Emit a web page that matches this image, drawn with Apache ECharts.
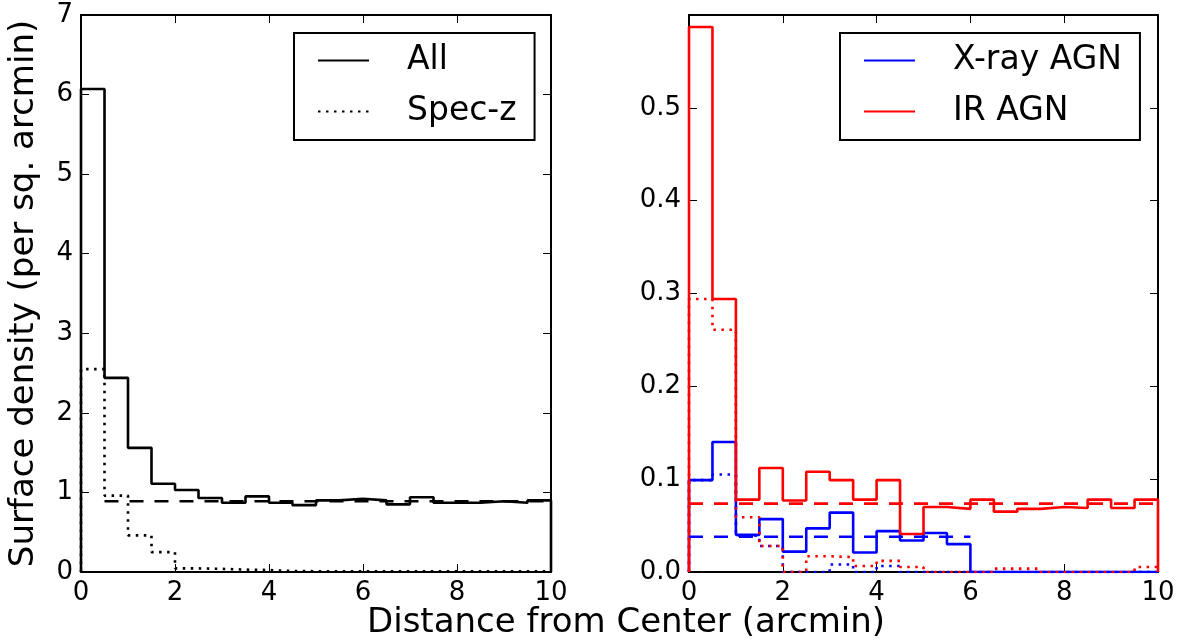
<!DOCTYPE html>
<html>
<head>
<meta charset="utf-8">
<script src="https://cdn.jsdelivr.net/npm/echarts@6/dist/echarts.min.js"></script>
<style>
html,body{margin:0;padding:0;background:#fff;}
#chart{width:1189px;height:644px;}
</style>
</head>
<body>
<div id="chart"></div>
<script>
// ---- Data ----
const binEdges = [0,0.5,1,1.5,2,2.5,3,3.5,4,4.5,5,5.5,6,6.5,7,7.5,8,8.5,9,9.5,10];
// Left panel (all galaxies)
const allDensity  = [6.07,2.44,1.56,1.11,1.03,0.93,0.87,0.95,0.87,0.84,0.90,0.92,0.90,0.85,0.94,0.87,0.87,0.89,0.87,0.90];
const specDensity = [2.55,0.96,0.46,0.25,0.045,0.04,0.03,0.025,0.012,0.01,0.01,0.009,0.008,0.008,0.008,0.008,0.008,0.008,0.008,0.008];
const allMeanLevel = 0.89;
const allMeanRange = [0.5, 10];
// Right panel (AGN)
const xrayDensity     = [0.099,0.140,0.040,0.057,0.022,0.047,0.064,0.021,0.044,0.034,0.042,0.030,0,0,0,0,0,0,0,0];
const xraySpecDensity = [0.099,0.105,0.039,0.028,0,0,0.008,0,0.0065,0,0,0,0,0,0,0,0,0,0,0];
const irDensity       = [0.587,0.294,0.078,0.112,0.077,0.108,0.099,0.078,0.099,0.041,0.070,0.068,0.078,0.065,0.068,0.070,0.069,0.078,0.069,0.078];
const irSpecDensity   = [0.294,0.261,0.059,0.028,0,0.017,0.016,0.0065,0.012,0.0054,0,0,0,0.0036,0.0036,0,0,0,0,0.0054];
const xrayMeanLevel = 0.038;
const xrayMeanRange = [0, 6];
const irMeanLevel = 0.0736;
const irMeanRange = [0, 10];
// Ticks
const xTicks = [0,2,4,6,8,10];
const leftYTicks = [0,1,2,3,4,5,6,7];
const rightYTicks = [0.0,0.1,0.2,0.3,0.4,0.5,0.6];
// Text
const xTitle = 'Distance from Center (arcmin)';
const yTitle = 'Surface density (per sq. arcmin)';
const legendLeft = ['All','Spec-z'];
const legendRight = ['X-ray AGN','IR AGN'];

// ---- Helpers ----
function stepData(edges, vals){
  const pts = [[edges[0], 0]];
  for (let i = 0; i < vals.length; i++) pts.push([edges[i], vals[i]]);
  pts.push([edges[edges.length-1], vals[vals.length-1]]);
  pts.push([edges[edges.length-1], 0]);
  return pts;
}
const FONT = 'DejaVu Sans';
const DOT = [2.5, 5.5];
const DASH = [14, 11];

function axisPair(kind, gridIndex, ticks, isLeftPanel){
  const min = ticks[0], max = ticks[ticks.length-1], interval = ticks[1]-ticks[0];
  const common = {
    type: 'value', gridIndex, min, max, interval,
    axisLine: {show: true, onZero: false, lineStyle: {color: '#000', width: 2}},
    axisTick: {show: true, inside: true, length: 8, lineStyle: {color: '#000', width: 1}},
    splitLine: {show: false}
  };
  const a = Object.assign({}, common, {
    position: kind === 'x' ? 'bottom' : 'left',
    axisLabel: {show: true, color: '#000', fontSize: 26, fontFamily: FONT, margin: 8,
      formatter: (v) => (kind === 'y' && !isLeftPanel) ? v.toFixed(1) : String(Math.round(v*100)/100),
      showMaxLabel: (kind === 'y' && !isLeftPanel) ? false : true}
  });
  const b = Object.assign({}, common, {
    position: kind === 'x' ? 'top' : 'right',
    axisLabel: {show: false}
  });
  return [a, b];
}

const xAxes = [...axisPair('x', 0, xTicks, true), ...axisPair('x', 1, xTicks, false)];
const yAxes = [...axisPair('y', 0, leftYTicks, true), ...axisPair('y', 1, rightYTicks, false)];
yAxes[0].name = yTitle;
yAxes[0].nameLocation = 'middle';
yAxes[0].nameGap = 40;
yAxes[0].nameTextStyle = {fontSize: 34, color: '#000', fontFamily: FONT};

function stepSeries(name, x, y, edges, vals, color, type, z){
  return {
    name, type: 'line', xAxisIndex: x, yAxisIndex: y, data: stepData(edges, vals),
    step: 'end', symbol: 'none', silent: true, z: z,
    lineStyle: {color, width: 2.6, type, cap: 'butt'},
    itemStyle: {color}
  };
}
function meanSeries(name, x, y, range, level, color){
  return {
    name, type: 'line', xAxisIndex: x, yAxisIndex: y,
    data: [[range[0], level], [range[1], level]],
    symbol: 'none', silent: true, z: 5,
    lineStyle: {color, width: 2.6, type: DASH, cap: 'butt'},
    itemStyle: {color}
  };
}

const series = [
  stepSeries(legendLeft[0], 0, 0, binEdges, allDensity, '#000', 'solid', 3),
  stepSeries(legendLeft[1], 0, 0, binEdges, specDensity, '#000', DOT, 3),
  meanSeries('allMean', 0, 0, allMeanRange, allMeanLevel, '#000'),
  stepSeries(legendRight[0], 2, 2, binEdges, xrayDensity, '#0000ff', 'solid', 3),
  stepSeries('X-ray spec', 2, 2, binEdges, xraySpecDensity, '#0000ff', DOT, 3),
  stepSeries(legendRight[1], 2, 2, binEdges, irDensity, '#ff0000', 'solid', 4),
  stepSeries('IR spec', 2, 2, binEdges, irSpecDensity, '#ff0000', DOT, 4),
  meanSeries('xrayMean', 2, 2, xrayMeanRange, xrayMeanLevel, '#0000ff'),
  meanSeries('irMean', 2, 2, irMeanRange, irMeanLevel, '#ff0000')
];

function legendBox(data, left){
  return {
    data, left, top: 33, orient: 'vertical',
    itemWidth: 51, itemHeight: 14, itemGap: 18,
    padding: [11, 18, 12, 23],
    borderColor: '#000', borderWidth: 2, borderRadius: 0,
    backgroundColor: '#fff',
    selectedMode: false,
    itemStyle: {color: 'rgba(0,0,0,0)', borderWidth: 0, opacity: 0},
    textStyle: {fontSize: 33, color: '#000', fontFamily: FONT, padding: [0, 0, 0, 33], lineHeight: 33}
  };
}

const option = {
  animation: false,
  backgroundColor: '#fff',
  textStyle: {fontFamily: FONT},
  title: {
    text: xTitle, left: 362, top: 601,
    textStyle: {fontSize: 34, fontWeight: 'normal', color: '#000', fontFamily: FONT}
  },
  grid: [
    {left: 81, top: 15, width: 470, height: 557},
    {left: 689, top: 15, width: 469, height: 557}
  ],
  xAxis: xAxes,
  yAxis: yAxes,
  legend: [legendBox(legendLeft, 294), legendBox(legendRight, 840)],
  series
};

const chart = echarts.init(document.getElementById('chart'), null, {renderer: 'canvas'});
chart.setOption(option);
</script>
</body>
</html>
